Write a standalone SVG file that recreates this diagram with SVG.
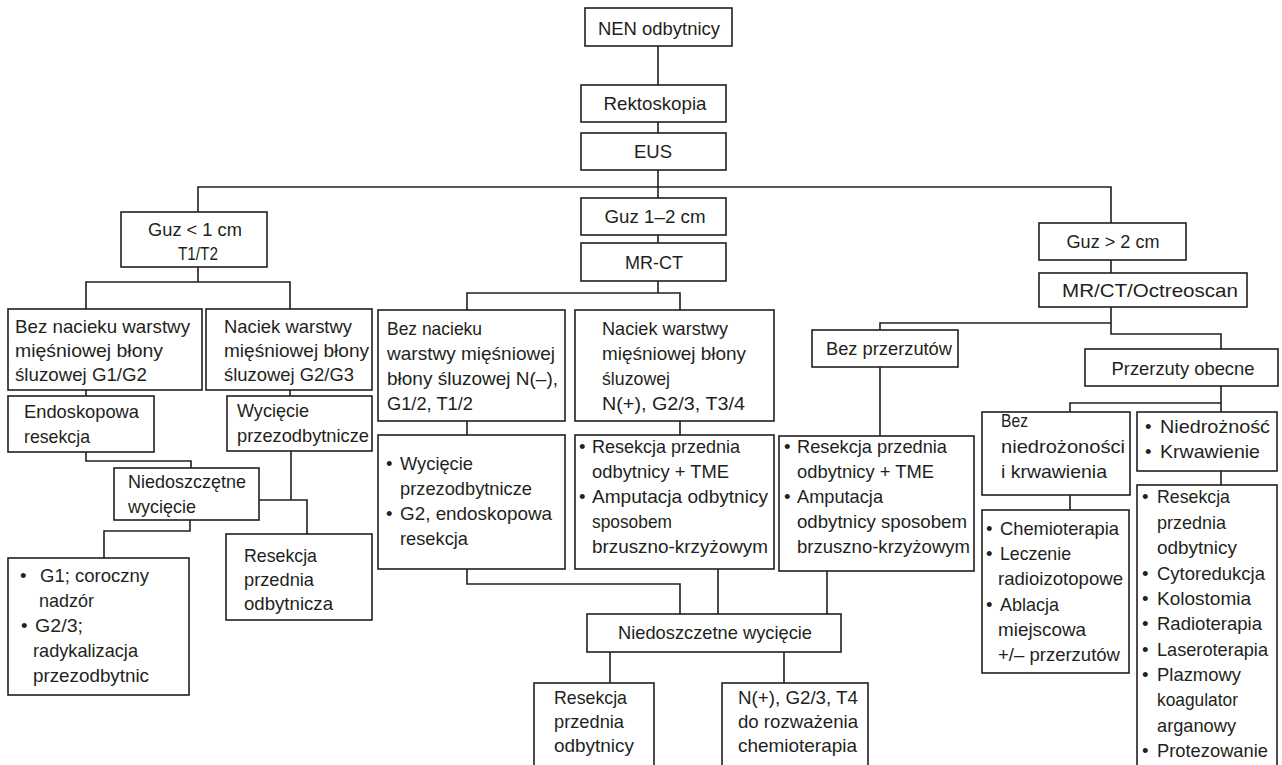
<svg xmlns="http://www.w3.org/2000/svg" width="1282" height="765" viewBox="0 0 1282 765">
<style>
.box{fill:#fff;stroke:#231f20;stroke-width:1.6}
.c{fill:none;stroke:#231f20;stroke-width:1.6}
text{font-family:"Liberation Sans",Arial,sans-serif;font-size:18.5px;fill:#231f20}
.m{text-anchor:middle}
</style>
<rect width="1282" height="765" fill="#fff"/>
<g id="connectors">
<path class="c" d="M658,46V85M658,122V133M658,170V198M198,212V187H1111V223M658,235V243M1111,260V273"/>
<path class="c" d="M658,281V293M467,310V293H680V310"/>
<path class="c" d="M198,267V282M86,309V282H290V309M86,390V396M290,390V396"/>
<path class="c" d="M86,452V461H191V468M291,451V500M259,500H307V534M190,520V531H104V558"/>
<path class="c" d="M467,421V435M680,421V435M467,569V584H680V614M718,569V614M827,571V614M610,652V683M784,652V683"/>
<path class="c" d="M1111,307V334H1221V349M880,330V323H1111M880,367V436"/>
<path class="c" d="M1221,385V412M1070,412V403H1221M1070,495V510M1221,471V485"/>
</g>
<g id="nen"><rect class="box" x="585" y="8" width="147" height="38"/><text class="m" x="659" y="35" textLength="122" lengthAdjust="spacingAndGlyphs">NEN odbytnicy</text></g>
<g id="rektoskopia"><rect class="box" x="581" y="85" width="145" height="37"/><text class="m" x="655" y="110" textLength="103" lengthAdjust="spacingAndGlyphs">Rektoskopia</text></g>
<g id="eus"><rect class="box" x="581" y="133" width="145" height="37"/><text class="m" x="653" y="158" textLength="38" lengthAdjust="spacingAndGlyphs">EUS</text></g>
<g id="guz12"><rect class="box" x="581" y="198" width="145" height="37"/><text class="m" x="655" y="223" textLength="101" lengthAdjust="spacingAndGlyphs">Guz 1–2 cm</text></g>
<g id="mrct"><rect class="box" x="581" y="243" width="145" height="38"/><text class="m" x="654" y="269" textLength="58" lengthAdjust="spacingAndGlyphs">MR-CT</text></g>
<g id="guz1"><rect class="box" x="121" y="212" width="146" height="55"/><text class="m" x="195" y="236" textLength="94" lengthAdjust="spacingAndGlyphs">Guz &lt; 1 cm</text><text class="m" x="198" y="260" textLength="40" lengthAdjust="spacingAndGlyphs">T1/T2</text></g>
<g id="guz2"><rect class="box" x="1039" y="223" width="147" height="37"/><text class="m" x="1113" y="248" textLength="93" lengthAdjust="spacingAndGlyphs">Guz &gt; 2 cm</text></g>
<g id="octreo"><rect class="box" x="1039" y="273" width="208" height="34"/><text class="m" x="1150" y="297" textLength="176" lengthAdjust="spacingAndGlyphs">MR/CT/Octreoscan</text></g>
<g id="beznac1"><rect class="box" x="8" y="309" width="194" height="81"/>
<text x="15" y="333" textLength="175" lengthAdjust="spacingAndGlyphs">Bez nacieku warstwy</text>
<text x="15" y="357" textLength="148" lengthAdjust="spacingAndGlyphs">mięśniowej błony</text>
<text x="15" y="381" textLength="132" lengthAdjust="spacingAndGlyphs">śluzowej G1/G2</text></g>
<g id="naciek1"><rect class="box" x="206" y="309" width="166" height="81"/>
<text x="224" y="333" textLength="128" lengthAdjust="spacingAndGlyphs">Naciek warstwy</text>
<text x="224" y="357" textLength="145" lengthAdjust="spacingAndGlyphs">mięśniowej błony</text>
<text x="224" y="381" textLength="130" lengthAdjust="spacingAndGlyphs">śluzowej G2/G3</text></g>
<g id="endo"><rect class="box" x="8" y="396" width="146" height="56"/>
<text x="24" y="418" textLength="115" lengthAdjust="spacingAndGlyphs">Endoskopowa</text>
<text x="24" y="443" textLength="66" lengthAdjust="spacingAndGlyphs">resekcja</text></g>
<g id="wyc1"><rect class="box" x="227" y="396" width="145" height="55"/>
<text x="237" y="417" textLength="72" lengthAdjust="spacingAndGlyphs">Wycięcie</text>
<text x="237" y="442" textLength="132" lengthAdjust="spacingAndGlyphs">przezodbytnicze</text></g>
<g id="niedo1"><rect class="box" x="114" y="468" width="145" height="52"/>
<text x="128" y="488" textLength="118" lengthAdjust="spacingAndGlyphs">Niedoszczętne</text>
<text x="128" y="513" textLength="68" lengthAdjust="spacingAndGlyphs">wycięcie</text></g>
<g id="resL"><rect class="box" x="226" y="534" width="146" height="86"/>
<text x="244" y="562" textLength="73" lengthAdjust="spacingAndGlyphs">Resekcja</text>
<text x="244" y="586" textLength="70" lengthAdjust="spacingAndGlyphs">przednia</text>
<text x="244" y="610" textLength="89" lengthAdjust="spacingAndGlyphs">odbytnicza</text></g>
<g id="g1"><rect class="box" x="8" y="558" width="181" height="137"/>
<text x="20" y="582">•</text><text x="40" y="582" textLength="109" lengthAdjust="spacingAndGlyphs">G1; coroczny</text>
<text x="39" y="607" textLength="55" lengthAdjust="spacingAndGlyphs">nadzór</text>
<text x="21" y="632">•</text><text x="35" y="632" textLength="48" lengthAdjust="spacingAndGlyphs">G2/3;</text>
<text x="33" y="657" textLength="105" lengthAdjust="spacingAndGlyphs">radykalizacja</text>
<text x="33" y="682" textLength="116" lengthAdjust="spacingAndGlyphs">przezodbytnic</text></g>
<g id="beznac2"><rect class="box" x="378" y="310" width="187" height="111"/>
<text x="387" y="335" textLength="95" lengthAdjust="spacingAndGlyphs">Bez nacieku</text>
<text x="387" y="360" textLength="168" lengthAdjust="spacingAndGlyphs">warstwy mięśniowej</text>
<text x="387" y="385" textLength="171" lengthAdjust="spacingAndGlyphs">błony śluzowej N(–),</text>
<text x="387" y="410" textLength="86" lengthAdjust="spacingAndGlyphs">G1/2, T1/2</text></g>
<g id="naciek2"><rect class="box" x="575" y="310" width="199" height="111"/>
<text x="602" y="335" textLength="126" lengthAdjust="spacingAndGlyphs">Naciek warstwy</text>
<text x="602" y="360" textLength="144" lengthAdjust="spacingAndGlyphs">mięśniowej błony</text>
<text x="602" y="385" textLength="68" lengthAdjust="spacingAndGlyphs">śluzowej</text>
<text x="602" y="410" textLength="143" lengthAdjust="spacingAndGlyphs">N(+), G2/3, T3/4</text></g>
<g id="wyc2"><rect class="box" x="378" y="435" width="187" height="134"/>
<text x="386" y="470">•</text><text x="400" y="470" textLength="73" lengthAdjust="spacingAndGlyphs">Wycięcie</text>
<text x="400" y="495" textLength="132" lengthAdjust="spacingAndGlyphs">przezodbytnicze</text>
<text x="386" y="520">•</text><text x="400" y="520" textLength="152" lengthAdjust="spacingAndGlyphs">G2, endoskopowa</text>
<text x="400" y="545" textLength="68" lengthAdjust="spacingAndGlyphs">resekcja</text></g>
<g id="res2"><rect class="box" x="575" y="435" width="199" height="134"/>
<text x="579" y="453">•</text><text x="592" y="453" textLength="148" lengthAdjust="spacingAndGlyphs">Resekcja przednia</text>
<text x="592" y="478" textLength="137" lengthAdjust="spacingAndGlyphs">odbytnicy + TME</text>
<text x="579" y="503">•</text><text x="592" y="503" textLength="176" lengthAdjust="spacingAndGlyphs">Amputacja odbytnicy</text>
<text x="592" y="528" textLength="80" lengthAdjust="spacingAndGlyphs">sposobem</text>
<text x="592" y="553" textLength="176" lengthAdjust="spacingAndGlyphs">brzuszno-krzyżowym</text></g>
<g id="bezprz"><rect class="box" x="812" y="330" width="146" height="37"/><text x="826" y="355" textLength="126" lengthAdjust="spacingAndGlyphs">Bez przerzutów</text></g>
<g id="res3"><rect class="box" x="779" y="436" width="195" height="135"/>
<text x="784" y="453">•</text><text x="797" y="453" textLength="150" lengthAdjust="spacingAndGlyphs">Resekcja przednia</text>
<text x="797" y="478" textLength="137" lengthAdjust="spacingAndGlyphs">odbytnicy + TME</text>
<text x="784" y="503">•</text><text x="797" y="503" textLength="86" lengthAdjust="spacingAndGlyphs">Amputacja</text>
<text x="797" y="528" textLength="170" lengthAdjust="spacingAndGlyphs">odbytnicy sposobem</text>
<text x="797" y="553" textLength="173" lengthAdjust="spacingAndGlyphs">brzuszno-krzyżowym</text></g>
<g id="niedo2"><rect class="box" x="587" y="614" width="254" height="38"/><text class="m" x="715" y="639" textLength="194" lengthAdjust="spacingAndGlyphs">Niedoszczetne wycięcie</text></g>
<g id="resB"><rect class="box" x="534" y="683" width="120" height="90"/>
<text x="554" y="704" textLength="73" lengthAdjust="spacingAndGlyphs">Resekcja</text>
<text x="554" y="728" textLength="70" lengthAdjust="spacingAndGlyphs">przednia</text>
<text x="554" y="752" textLength="80" lengthAdjust="spacingAndGlyphs">odbytnicy</text></g>
<g id="nplus"><rect class="box" x="722" y="683" width="146" height="90"/>
<text x="738" y="704" textLength="120" lengthAdjust="spacingAndGlyphs">N(+), G2/3, T4</text>
<text x="738" y="728" textLength="120" lengthAdjust="spacingAndGlyphs">do rozważenia</text>
<text x="738" y="752" textLength="119" lengthAdjust="spacingAndGlyphs">chemioterapia</text></g>
<g id="przobe"><rect class="box" x="1085" y="349" width="193" height="37"/><text class="m" x="1183" y="375" textLength="143" lengthAdjust="spacingAndGlyphs">Przerzuty obecne</text></g>
<g id="beznied"><rect class="box" x="982" y="412" width="148" height="83"/>
<text x="1001" y="427" textLength="27" lengthAdjust="spacingAndGlyphs">Bez</text>
<text x="1001" y="453" textLength="124" lengthAdjust="spacingAndGlyphs">niedrożoności</text>
<text x="1001" y="478" textLength="106" lengthAdjust="spacingAndGlyphs">i krwawienia</text></g>
<g id="niedroz"><rect class="box" x="1137" y="412" width="140" height="59"/>
<text x="1145" y="433">•</text><text x="1160" y="433" textLength="110" lengthAdjust="spacingAndGlyphs">Niedrożność</text>
<text x="1145" y="458">•</text><text x="1160" y="458" textLength="100" lengthAdjust="spacingAndGlyphs">Krwawienie</text></g>
<g id="chemio"><rect class="box" x="982" y="510" width="147" height="163"/>
<text x="986" y="535">•</text><text x="1000" y="535" textLength="119" lengthAdjust="spacingAndGlyphs">Chemioterapia</text>
<text x="986" y="560">•</text><text x="1000" y="560" textLength="71" lengthAdjust="spacingAndGlyphs">Leczenie</text>
<text x="998" y="585" textLength="125" lengthAdjust="spacingAndGlyphs">radioizotopowe</text>
<text x="986" y="611">•</text><text x="1000" y="611" textLength="59" lengthAdjust="spacingAndGlyphs">Ablacja</text>
<text x="998" y="636" textLength="88" lengthAdjust="spacingAndGlyphs">miejscowa</text>
<text x="998" y="661" textLength="122" lengthAdjust="spacingAndGlyphs">+/– przerzutów</text></g>
<g id="resR"><rect class="box" x="1137" y="485" width="140" height="290"/>
<text x="1142" y="503">•</text><text x="1157" y="503" textLength="73" lengthAdjust="spacingAndGlyphs">Resekcja</text>
<text x="1157" y="529" textLength="69" lengthAdjust="spacingAndGlyphs">przednia</text>
<text x="1157" y="554" textLength="80" lengthAdjust="spacingAndGlyphs">odbytnicy</text>
<text x="1142" y="580">•</text><text x="1157" y="580" textLength="108" lengthAdjust="spacingAndGlyphs">Cytoredukcja</text>
<text x="1142" y="605">•</text><text x="1157" y="605" textLength="94" lengthAdjust="spacingAndGlyphs">Kolostomia</text>
<text x="1142" y="630">•</text><text x="1157" y="630" textLength="105" lengthAdjust="spacingAndGlyphs">Radioterapia</text>
<text x="1142" y="656">•</text><text x="1157" y="656" textLength="111" lengthAdjust="spacingAndGlyphs">Laseroterapia</text>
<text x="1142" y="681">•</text><text x="1157" y="681" textLength="84" lengthAdjust="spacingAndGlyphs">Plazmowy</text>
<text x="1157" y="706" textLength="81" lengthAdjust="spacingAndGlyphs">koagulator</text>
<text x="1157" y="732" textLength="79" lengthAdjust="spacingAndGlyphs">arganowy</text>
<text x="1142" y="757">•</text><text x="1157" y="757" textLength="111" lengthAdjust="spacingAndGlyphs">Protezowanie</text></g>
</svg>
